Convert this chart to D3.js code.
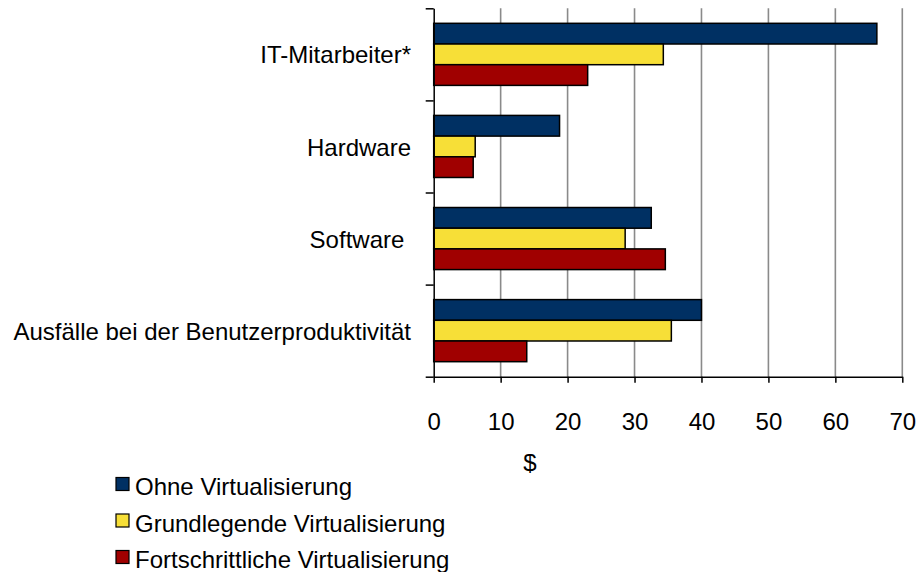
<!DOCTYPE html>
<html>
<head>
<meta charset="utf-8">
<script src="https://cdn.jsdelivr.net/npm/d3@7"></script>
<style>
  body { margin: 0; background: #fff; }
  text { font-family: "Liberation Sans", Arial, sans-serif; fill: #000; }
</style>
</head>
<body>
<div id="chart"></div>
<script>
// Data
let categories = ["IT-Mitarbeiter*", "Hardware", "Software ", "Ausfälle bei der Benutzerproduktivität"]
let seriesNames = ["Ohne Virtualisierung", "Grundlegende Virtualisierung", "Fortschrittliche Virtualisierung"]
let ohne = [66.2, 18.8, 32.5, 40.0]
let grundlegend = [34.3, 6.2, 28.6, 35.5]
let fortschrittlich = [23.0, 5.9, 34.6, 13.9]
let xTicks = [0, 10, 20, 30, 40, 50, 60, 70]
let colours = ["#003063", "#f7df37", "#a00000"]

let seriesValues = [ohne, grundlegend, fortschrittlich]

let width = 920
let height = 572
// plot area (window.top is taken, so prefix these)
let plotLeft = 433.7, plotRight = 902.3, plotTop = 8.3, plotBottom = 376.7

let svg = d3.select("#chart").append("svg")
    .attr("width", width)
    .attr("height", height)

let x = d3.scaleLinear().domain([0, 70]).range([plotLeft, plotRight])

let y = d3.scaleBand()
    .domain(categories)
    .range([plotTop, plotBottom])
    .paddingInner(0.326)
    .paddingOuter(0.163)

let ySeries = d3.scaleBand()
    .domain(d3.range(seriesNames.length))
    .range([0, y.bandwidth()])

// edges between the categories, for the little ticks on the left axis
let yEdge = d3.scaleLinear().domain([0, categories.length]).range([plotTop, plotBottom])

// vertical gridlines
svg.append("g")
  .selectAll("line")
  .data(xTicks.filter((d) => d > 0))
  .enter().append("line")
    .attr("x1", (d) => x(d))
    .attr("x2", (d) => x(d))
    .attr("y1", plotTop)
    .attr("y2", plotBottom)
    .style("stroke", "#8a8a8a")
    .style("stroke-width", 1.6)

// bars
let rows = []
categories.forEach((c, i) => {
  seriesValues.forEach((vals, s) => {
    rows.push({cat: c, s: s, value: vals[i]})
  })
})

svg.append("g")
  .selectAll("rect")
  .data(rows)
  .enter().append("rect")
    .attr("x", x(0))
    .attr("y", (d) => y(d.cat) + ySeries(d.s))
    .attr("width", (d) => x(d.value) - x(0))
    .attr("height", ySeries.bandwidth())
    .style("fill", (d) => colours[d.s])
    .style("stroke", "#000")
    .style("stroke-width", 1.5)

// x axis
let xAxis = svg.append("g")
    .attr("transform", "translate(0," + plotBottom + ")")
    .call(d3.axisBottom(x).tickValues(xTicks).tickSize(6).tickSizeOuter(0).tickPadding(30))
xAxis.select(".domain").style("stroke", "#000").style("stroke-width", 1.5)
xAxis.selectAll(".tick line").style("stroke", "#000").style("stroke-width", 1.5)
xAxis.selectAll(".tick text")
    .style("font-size", "24px")
    .style("font-family", "'Liberation Sans', Arial, sans-serif")
    .attr("fill", "#000")

// y axis (category separators)
let yAxis = svg.append("g")
    .attr("transform", "translate(" + plotLeft + ",0)")
    .call(d3.axisLeft(yEdge).tickValues(d3.range(categories.length + 1)).tickFormat("").tickSize(8).tickSizeOuter(0))
yAxis.select(".domain").style("stroke", "#000").style("stroke-width", 1.5)
yAxis.selectAll(".tick line").style("stroke", "#000").style("stroke-width", 1.5)

// category labels
svg.append("g")
  .selectAll("text")
  .data(categories)
  .enter().append("text")
    .attr("x", 411)
    .attr("y", (d) => y(d) + y.bandwidth() / 2)
    .attr("dy", "0.38em")
    .attr("text-anchor", "end")
    .style("white-space", "pre")
    .style("font-size", "24px")
    .text((d) => d)

// axis title
svg.append("text")
    .attr("x", 530)
    .attr("y", 471)
    .attr("text-anchor", "middle")
    .style("font-size", "24px")
    .text("$")

// legend
let legend = svg.append("g")
  .selectAll("g")
  .data(seriesNames)
  .enter().append("g")
    .attr("transform", (d, i) => "translate(116," + (477.5 + i * 36.5) + ")")

legend.append("rect")
    .attr("width", 13)
    .attr("height", 13)
    .style("fill", (d, i) => colours[i])
    .style("stroke", "#000")
    .style("stroke-width", 1.2)

legend.append("text")
    .attr("x", 19)
    .attr("y", 17.5)
    .style("font-size", "24px")
    .text((d) => d)
</script>
</body>
</html>
